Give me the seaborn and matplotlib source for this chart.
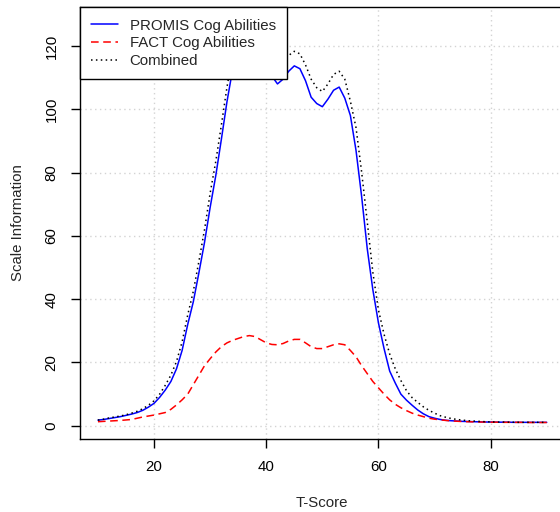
import matplotlib
matplotlib.use("Agg")
import matplotlib.pyplot as plt
import seaborn as sns
import pandas as pd

t_score = list(range(10, 91))

promis = [1.8, 2.0, 2.3, 2.6, 2.9, 3.3, 3.7, 4.2, 4.9, 5.9,
          7.1, 9.0, 11.3, 14.0, 18.0, 23.8, 32.0, 39.2, 48.4, 58.0,
          69.0, 79.0, 90.5, 102.4, 112.5, 118.0, 121.0, 122.0, 121.0, 118.0,
          113.5, 110.5, 108.0, 109.5, 112.0, 113.7, 112.8, 109.0, 103.8, 101.8,
          100.8, 103.2, 106.0, 107.0, 103.5, 98.0, 87.0, 72.5, 56.0, 43.0,
          32.5, 24.4, 17.3, 13.5, 10.0, 8.1, 6.5, 5.0, 3.8, 2.9,
          2.4, 2.0, 1.75, 1.6, 1.5, 1.4, 1.35, 1.3, 1.25, 1.2,
          1.2, 1.15, 1.15, 1.15, 1.1, 1.1, 1.1, 1.1, 1.1, 1.1, 1.1]

fact = [1.3, 1.4, 1.5, 1.6, 1.7, 1.85, 2.0, 2.4, 2.8, 3.1,
        3.4, 3.8, 4.2, 5.2, 6.6, 8.2, 10.0, 13.0, 16.0, 19.0,
        21.2, 23.3, 25.0, 26.2, 27.0, 27.6, 28.2, 28.5, 28.2, 27.2,
        26.2, 25.7, 25.6, 26.0, 26.8, 27.3, 27.3, 26.2, 25.0, 24.4,
        24.4, 25.0, 25.6, 25.9, 25.6, 23.8, 21.8, 19.0, 16.5, 14.0,
        12.0, 10.0, 8.2, 6.8, 5.7, 4.8, 4.0, 3.4, 2.9, 2.4,
        2.1, 1.9, 1.7, 1.55, 1.45, 1.35, 1.3, 1.25, 1.2, 1.2,
        1.15, 1.15, 1.1, 1.1, 1.1, 1.1, 1.1, 1.05, 1.05, 1.05, 1.05]

combined = [1.8, 2.1, 2.5, 2.8, 3.1, 3.5, 4.0, 4.6, 5.4, 6.5,
            7.9, 10.0, 12.8, 16.0, 20.3, 26.5, 35.0, 42.5, 52.0, 62.0,
            73.5, 83.5, 95.0, 107.0, 117.0, 123.0, 126.5, 127.2, 126.0, 122.5,
            118.0, 115.5, 114.0, 115.0, 117.0, 118.3, 117.5, 114.0, 109.5, 106.8,
            105.6, 108.0, 111.0, 112.0, 109.5, 102.5, 94.2, 80.2, 64.5, 48.5,
            36.6, 28.9, 22.7, 18.0, 14.3, 11.1, 8.9, 7.4, 6.0, 4.9,
            4.0, 3.2, 2.7, 2.3, 2.0, 1.8, 1.6, 1.5, 1.4, 1.3,
            1.25, 1.2, 1.2, 1.15, 1.15, 1.1, 1.1, 1.1, 1.1, 1.1, 1.1]

series_labels = ["PROMIS Cog Abilities", "FACT Cog Abilities", "Combined"]
x_ticks = [20, 40, 60, 80]
y_ticks = [0, 20, 40, 60, 80, 100, 120]

sns.set_style("white")
plt.rcParams["font.family"] = ["Liberation Sans", "DejaVu Sans"]
FS = 10.8

df = pd.DataFrame({"T": t_score, "promis": promis, "fact": fact, "combined": combined})

fig = plt.figure(figsize=(5.6, 5.12), dpi=100)
ax = fig.add_axes([80 / 560, 1 - 438.7 / 512, (564.7 - 80) / 560, (438.7 - 7.3) / 512])

ax.set_axisbelow(True)
ax.grid(True, color="#d3d3d3", linestyle=(0, (1, 2.5)), linewidth=1.0)

sns.lineplot(data=df, x="T", y="promis", ax=ax, color="#0000ff", linewidth=1.1,
             label=series_labels[0], zorder=3)
sns.lineplot(data=df, x="T", y="fact", ax=ax, color="#ff0000", linewidth=1.1,
             linestyle=(0, (5, 3)), label=series_labels[1], zorder=3)
sns.lineplot(data=df, x="T", y="combined", ax=ax, color="#000000", linewidth=1.1,
             linestyle=(0, (1, 2.2)), label=series_labels[2], zorder=3)

ax.set_xlim(6.8, 93.2)
ax.set_ylim(-4.07, 132.2)
ax.set_xticks(x_ticks)
ax.set_yticks(y_ticks)
ax.tick_params(axis="both", direction="out", length=6.5, width=1.0, color="black",
               labelsize=FS, labelcolor="black", bottom=True, left=True)
ax.tick_params(axis="x", pad=9)
ax.tick_params(axis="y", pad=9)
for lab in ax.get_yticklabels():
    lab.set_rotation(90)
    lab.set_va("center")

for sp in ax.spines.values():
    sp.set_visible(True)
    sp.set_color("black")
    sp.set_linewidth(1.0)

ax.set_xlabel("T-Score", fontsize=FS, labelpad=16)
ax.set_ylabel("Scale Information", fontsize=FS, labelpad=14)

leg = ax.legend(loc="upper left", bbox_to_anchor=(0, 1), borderaxespad=0,
                fancybox=False, framealpha=1, edgecolor="black", fontsize=FS,
                handlelength=1.8, handletextpad=0.75, borderpad=0.75,
                labelspacing=0.25)
leg.get_frame().set_linewidth(1.0)
leg.set_zorder(10)

fig.savefig("out.png", dpi=100)
